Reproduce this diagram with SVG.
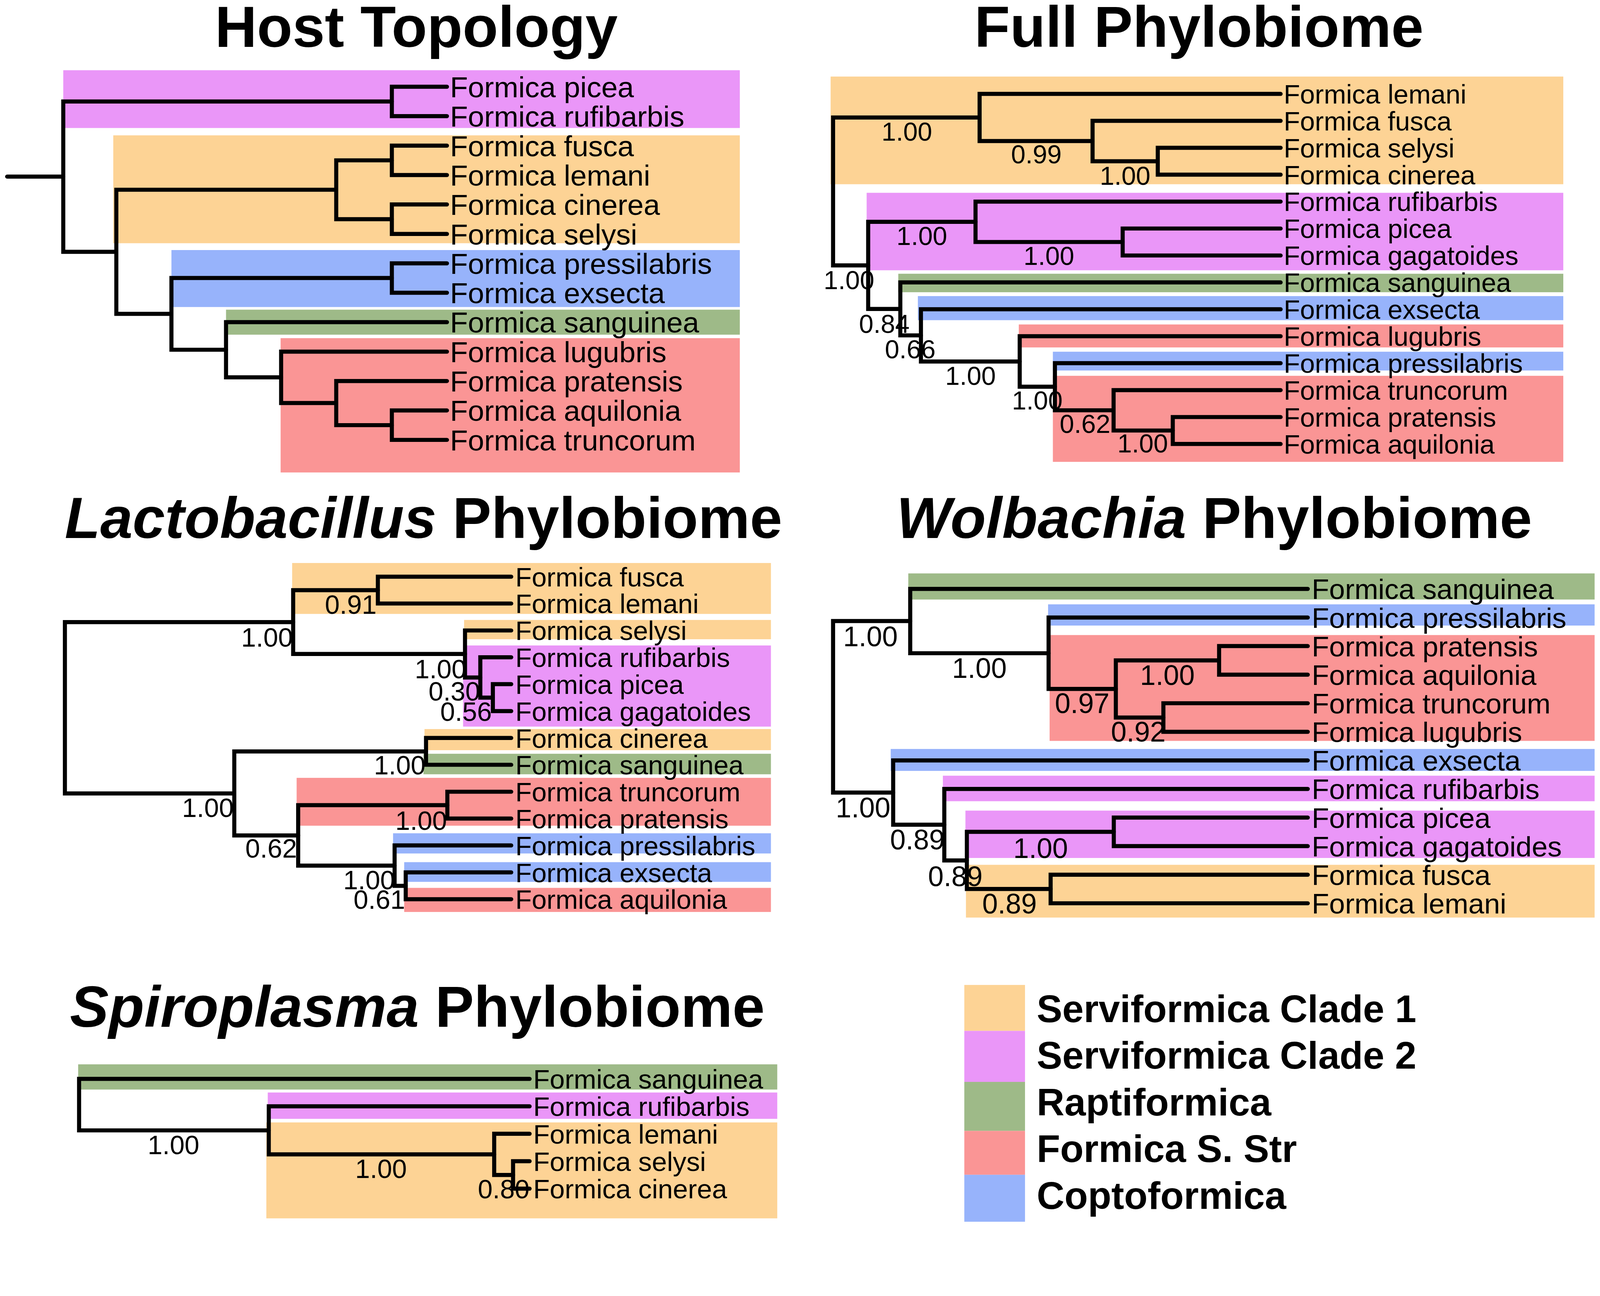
<svg xmlns="http://www.w3.org/2000/svg" width="4324" height="3317" viewBox="0 0 4324 3317" preserveAspectRatio="xMinYMin meet">
<style>
svg:root{width:100vw;height:100vh}
text{font-family:"Liberation Sans",Arial,Helvetica,sans-serif;fill:#000}
.title{font-weight:bold;font-size:57px;text-anchor:middle}
.it{font-style:italic}
.h{font-size:28.7px}
.f{font-size:26.2px}
.fs{font-size:25.5px;text-anchor:middle}
.l{font-size:26.3px}
.ls{font-size:26px;text-anchor:end}
.w{font-size:27.9px}
.ws{font-size:27.5px;text-anchor:middle}
.s{font-size:26.5px}
.ss{font-size:26px;text-anchor:middle}
.leg{font-weight:bold;font-size:37.6px}
.br{fill:none;stroke:#000;stroke-width:4;stroke-linecap:round;stroke-linejoin:miter}
.c1{fill:#FDD395}
.c2{fill:#EA96F8}
.c3{fill:#9EBA88}
.c4{fill:#FA9595}
.c5{fill:#97B3FB}
</style>
<rect x="0" y="0" width="4324" height="3317" fill="#fff"/>
<g transform="scale(2.7577)">
<!-- ===== Host Topology ===== -->
<g id="host">
<text class="title" x="408" y="46">Host Topology</text>
<g id="host-bands">
<rect class="c2" x="62" y="68.8" width="663" height="56.6"/>
<rect class="c1" x="111" y="132.6" width="614" height="105.7"/>
<rect class="c5" x="168" y="245" width="557" height="55.8"/>
<rect class="c3" x="221.5" y="303.4" width="503.5" height="24.5"/>
<rect class="c4" x="275" y="331.3" width="450" height="131.6"/>
</g>
<g id="host-connectors" class="br">
<path d="M7,173 H62"/>
<path d="M438,85 H384 V113.8 H438"/>
<path d="M438,142.7 H384 V171.5 H438"/>
<path d="M438,200.3 H384 V229.2 H438"/>
<path d="M384,157.1 H329.5 V214.75 H384"/>
<path d="M438,258 H384 V286.8 H438"/>
<path d="M438,402.1 H384 V431 H438"/>
<path d="M438,373.3 H329.5 V416.55 H384"/>
<path d="M438,344.5 H275.5 V394.9 H329.5"/>
<path d="M438,315.6 H221.5 V369.7 H275.5"/>
<path d="M384,272.4 H168 V342.65 H221.5"/>
<path d="M329.5,185.9 H114 V307.5 H168"/>
<path d="M384,99.4 H62 V246.7 H114"/>
</g>
<g id="host-tips" class="h">
<g id="host-picea"><text x="441" y="95.3">Formica picea</text></g>
<g id="host-rufibarbis"><text x="441" y="124.1">Formica rufibarbis</text></g>
<g id="host-fusca"><text x="441" y="153">Formica fusca</text></g>
<g id="host-lemani"><text x="441" y="181.8">Formica lemani</text></g>
<g id="host-cinerea"><text x="441" y="210.6">Formica cinerea</text></g>
<g id="host-selysi"><text x="441" y="239.5">Formica selysi</text></g>
<g id="host-pressilabris"><text x="441" y="268.3">Formica pressilabris</text></g>
<g id="host-exsecta"><text x="441" y="297.1">Formica exsecta</text></g>
<g id="host-sanguinea"><text x="441" y="325.9">Formica sanguinea</text></g>
<g id="host-lugubris"><text x="441" y="354.8">Formica lugubris</text></g>
<g id="host-pratensis"><text x="441" y="383.6">Formica pratensis</text></g>
<g id="host-aquilonia"><text x="441" y="412.4">Formica aquilonia</text></g>
<g id="host-truncorum"><text x="441" y="441.3">Formica truncorum</text></g>
</g>
</g>
<!-- ===== Full Phylobiome ===== -->
<g id="full">
<text class="title" x="1175" y="46">Full Phylobiome</text>
<g id="full-bands">
<rect class="c1" x="814" y="75" width="718" height="105.5"/>
<rect class="c2" x="849.3" y="188.9" width="682.7" height="75.9"/>
<rect class="c3" x="880.3" y="268.2" width="651.7" height="18.1"/>
<rect class="c5" x="899.5" y="290.1" width="632.5" height="23.6"/>
<rect class="c4" x="998.4" y="317.9" width="533.6" height="22.5"/>
<rect class="c5" x="1031.8" y="344.6" width="500.2" height="18.4"/>
<rect class="c4" x="1031.8" y="368.2" width="500.2" height="84.3"/>
</g>
<g id="full-connectors" class="br">
<path d="M1255,144.8 H1134.6 V171.1 H1255"/>
<path d="M1255,118.4 H1070.7 V158 H1134.6"/>
<path d="M1255,92 H960 V138.2 H1070.7"/>
<path d="M1255,223.9 H1100.2 V250.3 H1255"/>
<path d="M1255,197.5 H956 V237.1 H1100.2"/>
<path d="M1255,408.6 H1149.3 V435 H1255"/>
<path d="M1255,382.2 H1091.3 V421.8 H1149.3"/>
<path d="M1255,355.8 H1033.8 V402 H1091.3"/>
<path d="M1255,329.4 H999.3 V378.9 H1033.8"/>
<path d="M1255,303 H902.5 V354.2 H999.3"/>
<path d="M1255,276.7 H882.3 V328.6 H902.5"/>
<path d="M956,217.3 H850.8 V302.7 H882.3"/>
<path d="M960,115.1 H816.4 V260 H850.8"/>
</g>
<g id="full-tips" class="f">
<g id="full-lemani"><text x="1258" y="101.4">Formica lemani</text></g>
<g id="full-fusca"><text x="1258" y="127.8">Formica fusca</text></g>
<g id="full-selysi"><text x="1258" y="154.2">Formica selysi</text></g>
<g id="full-cinerea"><text x="1258" y="180.5">Formica cinerea</text></g>
<g id="full-rufibarbis"><text x="1258" y="206.9">Formica rufibarbis</text></g>
<g id="full-picea"><text x="1258" y="233.3">Formica picea</text></g>
<g id="full-gagatoides"><text x="1258" y="259.7">Formica gagatoides</text></g>
<g id="full-sanguinea"><text x="1258" y="286.1">Formica sanguinea</text></g>
<g id="full-exsecta"><text x="1258" y="312.4">Formica exsecta</text></g>
<g id="full-lugubris"><text x="1258" y="338.8">Formica lugubris</text></g>
<g id="full-pressilabris"><text x="1258" y="365.2">Formica pressilabris</text></g>
<g id="full-truncorum"><text x="1258" y="391.6">Formica truncorum</text></g>
<g id="full-pratensis"><text x="1258" y="418">Formica pratensis</text></g>
<g id="full-aquilonia"><text x="1258" y="444.4">Formica aquilonia</text></g>
</g>
<g id="full-support" class="fs">
<g id="full-n1"><text x="888.7" y="137.9">1.00</text></g>
<g id="full-n2"><text x="1015.6" y="160.1">0.99</text></g>
<g id="full-n3"><text x="1102.6" y="181">1.00</text></g>
<g id="full-n4"><text x="903.4" y="240">1.00</text></g>
<g id="full-n5"><text x="1027.9" y="259.6">1.00</text></g>
<g id="full-n6"><text x="832" y="283.2">1.00</text></g>
<g id="full-n7"><text x="866.6" y="326.2">0.84</text></g>
<g id="full-n8"><text x="892" y="351.2">0.66</text></g>
<g id="full-n9"><text x="951.1" y="376.9">1.00</text></g>
<g id="full-n10"><text x="1016.5" y="401">1.00</text></g>
<g id="full-n11"><text x="1063.3" y="424">0.62</text></g>
<g id="full-n12"><text x="1119.8" y="443.4">1.00</text></g>
</g>
</g>
<!-- ===== Lactobacillus Phylobiome ===== -->
<g id="lacto">
<text class="title" x="415" y="527"><tspan class="it">Lactobacillus</tspan> Phylobiome</text>
<g id="lacto-bands">
<rect class="c1" x="286.3" y="551.6" width="469.2" height="49.9"/>
<rect class="c1" x="454.8" y="607.4" width="300.7" height="18.9"/>
<rect class="c2" x="453.8" y="632.4" width="301.7" height="79.5"/>
<rect class="c1" x="416" y="714.3" width="339.5" height="20.7"/>
<rect class="c3" x="415" y="738.5" width="340.5" height="20.1"/>
<rect class="c4" x="290.7" y="762.1" width="464.8" height="46.9"/>
<rect class="c5" x="385.2" y="816.4" width="370.3" height="19.8"/>
<rect class="c5" x="396.1" y="844.7" width="359.4" height="19.3"/>
<rect class="c4" x="396.1" y="869.9" width="359.4" height="23.6"/>
</g>
<g id="lacto-connectors" class="br">
<path d="M501,565 H370.3 V591.3 H501"/>
<path d="M501,670.3 H483 V696.7 H501"/>
<path d="M501,644 H470.7 V683.5 H483"/>
<path d="M501,617.7 H455.7 V663.8 H470.7"/>
<path d="M370.3,578.2 H287.3 V640.7 H455.7"/>
<path d="M501,723 H417.5 V749.3 H501"/>
<path d="M501,775.7 H438.4 V802 H501"/>
<path d="M501,854.7 H397.6 V881 H501"/>
<path d="M501,828.3 H386.7 V867.9 H397.6"/>
<path d="M438.4,788.9 H292.2 V848.1 H386.7"/>
<path d="M417.5,736.2 H229.6 V818.5 H292.2"/>
<path d="M287.3,609.5 H63.6 V777.4 H229.6"/>
</g>
<g id="lacto-tips" class="l">
<g id="lacto-fusca"><text x="505" y="574.5">Formica fusca</text></g>
<g id="lacto-lemani"><text x="505" y="600.8">Formica lemani</text></g>
<g id="lacto-selysi"><text x="505" y="627.2">Formica selysi</text></g>
<g id="lacto-rufibarbis"><text x="505" y="653.5">Formica rufibarbis</text></g>
<g id="lacto-picea"><text x="505" y="679.8">Formica picea</text></g>
<g id="lacto-gagatoides"><text x="505" y="706.2">Formica gagatoides</text></g>
<g id="lacto-cinerea"><text x="505" y="732.5">Formica cinerea</text></g>
<g id="lacto-sanguinea"><text x="505" y="758.8">Formica sanguinea</text></g>
<g id="lacto-truncorum"><text x="505" y="785.2">Formica truncorum</text></g>
<g id="lacto-pratensis"><text x="505" y="811.5">Formica pratensis</text></g>
<g id="lacto-pressilabris"><text x="505" y="837.8">Formica pressilabris</text></g>
<g id="lacto-exsecta"><text x="505" y="864.2">Formica exsecta</text></g>
<g id="lacto-aquilonia"><text x="505" y="890.5">Formica aquilonia</text></g>
</g>
<g id="lacto-support" class="ls">
<g id="lacto-n1"><text x="369" y="601.4">0.91</text></g>
<g id="lacto-n2"><text x="287" y="633.4">1.00</text></g>
<g id="lacto-n3"><text x="457" y="664.4">1.00</text></g>
<g id="lacto-n4"><text x="470.5" y="686.4">0.30</text></g>
<g id="lacto-n5"><text x="482" y="706.4">0.56</text></g>
<g id="lacto-n6"><text x="417" y="758.9">1.00</text></g>
<g id="lacto-n7"><text x="229" y="800.4">1.00</text></g>
<g id="lacto-n8"><text x="438" y="812.9">1.00</text></g>
<g id="lacto-n9"><text x="291" y="840.4">0.62</text></g>
<g id="lacto-n10"><text x="387" y="871.4">1.00</text></g>
<g id="lacto-n11"><text x="397" y="890.4">0.61</text></g>
</g>
</g>
<!-- ===== Wolbachia Phylobiome ===== -->
<g id="wolb">
<text class="title" x="1190" y="527"><tspan class="it">Wolbachia</tspan> Phylobiome</text>
<g id="wolb-bands">
<rect class="c3" x="890.1" y="561.8" width="672.6" height="25.6"/>
<rect class="c5" x="1027.1" y="592.1" width="535.6" height="20.8"/>
<rect class="c4" x="1028.6" y="622.2" width="534.1" height="103.7"/>
<rect class="c5" x="872.9" y="733.8" width="689.8" height="21.5"/>
<rect class="c2" x="924" y="760" width="638.7" height="25"/>
<rect class="c2" x="946.1" y="794.2" width="616.6" height="46.4"/>
<rect class="c1" x="946.6" y="847.3" width="616.1" height="51.7"/>
</g>
<g id="wolb-connectors" class="br">
<path d="M1281.6,633 H1194.7 V661 H1281.6"/>
<path d="M1281.6,689 H1140.1 V717 H1281.6"/>
<path d="M1194.7,647 H1093.5 V703 H1140.1"/>
<path d="M1281.6,605 H1027.6 V675 H1093.5"/>
<path d="M1281.6,577 H892 V640 H1027.6"/>
<path d="M1281.6,801 H1091.5 V829 H1281.6"/>
<path d="M1281.6,857 H1029.6 V885 H1281.6"/>
<path d="M1091.5,815 H947.5 V871 H1029.6"/>
<path d="M1281.6,773 H925.4 V843 H947.5"/>
<path d="M1281.6,745 H875.3 V808 H925.4"/>
<path d="M892,608.5 H816.4 V776.5 H875.3"/>
</g>
<g id="wolb-tips" class="w">
<g id="wolb-sanguinea"><text x="1285.5" y="587">Formica sanguinea</text></g>
<g id="wolb-pressilabris"><text x="1285.5" y="615">Formica pressilabris</text></g>
<g id="wolb-pratensis"><text x="1285.5" y="643">Formica pratensis</text></g>
<g id="wolb-aquilonia"><text x="1285.5" y="671">Formica aquilonia</text></g>
<g id="wolb-truncorum"><text x="1285.5" y="699">Formica truncorum</text></g>
<g id="wolb-lugubris"><text x="1285.5" y="727">Formica lugubris</text></g>
<g id="wolb-exsecta"><text x="1285.5" y="755">Formica exsecta</text></g>
<g id="wolb-rufibarbis"><text x="1285.5" y="783">Formica rufibarbis</text></g>
<g id="wolb-picea"><text x="1285.5" y="811">Formica picea</text></g>
<g id="wolb-gagatoides"><text x="1285.5" y="839">Formica gagatoides</text></g>
<g id="wolb-fusca"><text x="1285.5" y="867">Formica fusca</text></g>
<g id="wolb-lemani"><text x="1285.5" y="895">Formica lemani</text></g>
</g>
<g id="wolb-support" class="ws">
<g id="wolb-n1"><text x="853" y="633.2">1.00</text></g>
<g id="wolb-n2"><text x="959.8" y="664">1.00</text></g>
<g id="wolb-n3"><text x="1060.5" y="698.8">0.97</text></g>
<g id="wolb-n4"><text x="1144" y="670.9">1.00</text></g>
<g id="wolb-n5"><text x="1115.5" y="726.6">0.92</text></g>
<g id="wolb-n6"><text x="845.8" y="800.7">1.00</text></g>
<g id="wolb-n7"><text x="899" y="832.4">0.89</text></g>
<g id="wolb-n8"><text x="936.2" y="868.3">0.89</text></g>
<g id="wolb-n9"><text x="1019.8" y="840.5">1.00</text></g>
<g id="wolb-n10"><text x="989.3" y="894.9">0.89</text></g>
</g>
</g>
<!-- ===== Spiroplasma Phylobiome ===== -->
<g id="spiro">
<text class="title" x="409" y="1006"><tspan class="it">Spiroplasma</tspan> Phylobiome</text>
<g id="spiro-bands">
<rect class="c3" x="76.6" y="1042.8" width="685.1" height="24.7"/>
<rect class="c2" x="262.4" y="1070.4" width="499.3" height="25.8"/>
<rect class="c1" x="261" y="1099.7" width="500.7" height="94"/>
</g>
<g id="spiro-connectors" class="br">
<path d="M519,1137.7 H502.8 V1164.6 H519"/>
<path d="M519,1110.8 H484.3 V1151.2 H502.8"/>
<path d="M519,1083.9 H263.4 V1131 H484.3"/>
<path d="M519,1057 H77.5 V1107.5 H263.4"/>
</g>
<g id="spiro-tips" class="s">
<g id="spiro-sanguinea"><text x="522.5" y="1066.5">Formica sanguinea</text></g>
<g id="spiro-rufibarbis"><text x="522.5" y="1093.4">Formica rufibarbis</text></g>
<g id="spiro-lemani"><text x="522.5" y="1120.3">Formica lemani</text></g>
<g id="spiro-selysi"><text x="522.5" y="1147.2">Formica selysi</text></g>
<g id="spiro-cinerea"><text x="522.5" y="1174.1">Formica cinerea</text></g>
</g>
<g id="spiro-support" class="ss">
<g id="spiro-n1"><text x="170" y="1130.7">1.00</text></g>
<g id="spiro-n2"><text x="373.4" y="1154.2">1.00</text></g>
<g id="spiro-n3"><text x="493.6" y="1174">0.80</text></g>
</g>
</g>
<!-- ===== Legend ===== -->
<g id="legend">
<g id="legend-clade1"><rect class="c1" x="945" y="965" width="59.5" height="45"/><text class="leg" x="1016" y="1001.5">Serviformica Clade 1</text></g>
<g id="legend-clade2"><rect class="c2" x="945" y="1010" width="59.5" height="50"/><text class="leg" x="1016" y="1047">Serviformica Clade 2</text></g>
<g id="legend-rapti"><rect class="c3" x="945" y="1060" width="59.5" height="48"/><text class="leg" x="1016" y="1093">Raptiformica</text></g>
<g id="legend-sstr"><rect class="c4" x="945" y="1108" width="59.5" height="43"/><text class="leg" x="1016" y="1138.5">Formica S. Str</text></g>
<g id="legend-copto"><rect class="c5" x="945" y="1151" width="59.5" height="46"/><text class="leg" x="1016" y="1184.5">Coptoformica</text></g>
</g>
</g>
</svg>
